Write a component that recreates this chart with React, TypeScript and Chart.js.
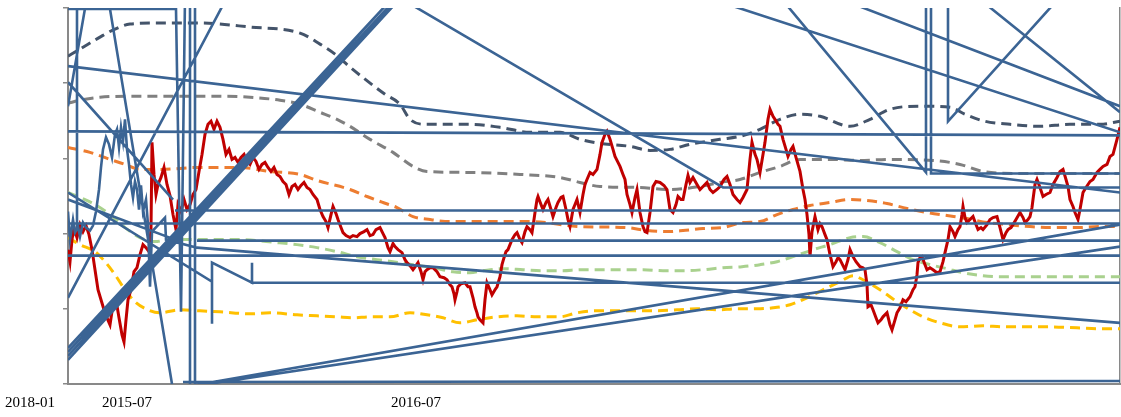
import React, { useEffect, useRef } from "react";
import { Chart, registerables } from "chart.js";

Chart.register(...registerables);

// x: trading-day index, y: price index (tick labels hidden in the original)
const xTickValues = [59, 348];
const xTickLabels = ["2015-07", "2016-07"];
const strayLabel = { text: "2018-01", at: -38 };

const price: number[][] = [
  [0,134],[2,122],[4,144],[6,156],[9,146],[12,159],[15,152],[18,158],[21,149],[24,134],
  [27,114],[30,94],[33,84],[36,74],[39,66],[42,59],[45,79],[48,84],[51,66],[54,49],
  [56,42],[58,64],[60,84],[63,94],[66,112],[69,116],[72,129],[75,139],[78,136],[81,132],
  [83,154],[84,241],[86,209],[88,189],[90,199],[93,206],[96,216],[99,199],[102,188],[105,169],
  [108,154],[110,179],[113,172],[116,184],[119,174],[122,179],[125,189],[128,194],[131,212],[134,229],
  [137,249],[140,259],[143,262],[146,254],[149,262],[152,256],[155,244],[158,229],[161,234],[164,224],
  [167,226],[170,221],[173,226],[176,229],[179,222],[182,219],[185,226],[188,222],[191,214],[194,219],
  [197,221],[200,216],[203,212],[206,216],[209,209],[212,207],[215,202],[218,199],[221,189],[224,197],
  [227,199],[230,194],[233,198],[236,201],[239,196],[242,194],[245,189],[249,184],[252,174],[255,167],
  [258,162],[260,156],[263,169],[265,177],[268,170],[270,164],[273,156],[275,151],[278,148],[282,146],
  [285,148],[289,147],[292,150],[296,152],[299,154],[302,148],[305,149],[308,154],[312,156],[315,150],
  [317,146],[320,136],[322,132],[325,140],[327,137],[330,134],[334,131],[337,124],[339,121],[342,118],
  [345,114],[348,118],[350,121],[353,112],[355,104],[357,112],[359,114],[362,116],[365,116],[369,112],
  [372,107],[376,106],[379,104],[382,99],[384,97],[386,90],[387,84],[389,92],[390,97],[393,100],
  [397,101],[400,97],[402,97],[405,86],[407,77],[409,71],[410,67],[412,64],[415,61],[417,84],
  [419,101],[422,94],[424,89],[427,94],[429,97],[432,107],[434,119],[436,126],[438,132],[440,134],
  [442,139],[444,144],[447,149],[449,151],[452,144],[454,141],[457,152],[459,157],[462,154],[464,151],
  [466,164],[467,171],[469,184],[470,187],[473,179],[475,174],[478,181],[480,184],[483,174],[485,167],
  [488,176],[490,181],[493,186],[495,187],[498,174],[500,164],[502,157],[505,174],[507,179],[509,184],
  [512,171],[515,189],[517,199],[519,204],[522,211],[525,209],[529,214],[532,229],[534,241],[537,249],
  [539,252],[542,244],[545,234],[547,227],[550,221],[552,217],[555,209],[557,204],[559,189],[562,179],
  [564,171],[567,186],[569,194],[572,171],[575,157],[577,152],[579,151],[582,171],[585,197],[588,202],
  [592,201],[596,198],[599,194],[602,174],[605,171],[608,179],[610,187],[613,184],[615,184],[618,199],
  [620,208],[622,201],[625,206],[629,199],[632,194],[636,198],[639,201],[642,194],[645,191],[649,194],
  [652,197],[656,204],[659,207],[662,199],[665,189],[669,184],[672,181],[675,186],[679,194],[682,224],
  [684,241],[687,229],[689,224],[692,211],[695,229],[697,241],[700,264],[702,274],[705,267],[707,264],
  [710,259],[712,257],[715,244],[718,234],[720,227],[723,234],[725,237],[728,226],[730,219],[732,212],
  [735,194],[737,184],[739,169],[741,149],[742,127],[744,152],[747,167],[750,154],[752,160],[754,157],
  [757,149],[759,144],[762,129],[765,117],[768,122],[770,126],[772,124],[775,118],[777,114],[780,124],
  [782,134],[785,127],[788,122],[792,117],[795,116],[797,114],[799,99],[800,77],[803,79],[805,74],
  [808,66],[810,61],[813,64],[815,67],[819,71],[822,59],[824,54],[827,64],[829,71],[832,76],
  [835,84],[838,82],[842,87],[845,94],[847,97],[849,109],[850,121],[852,126],[854,127],[857,119],
  [859,114],[862,116],[865,114],[869,111],[872,112],[875,122],[877,131],[880,144],[882,157],[885,152],
  [887,147],[890,154],[892,157],[894,169],[895,177],[897,166],[899,161],[902,164],[905,167],[908,159],
  [910,154],[913,156],[915,154],[919,159],[922,164],[925,166],[929,167],[932,156],[935,144],[938,151],
  [940,154],[943,156],[945,159],[948,164],[952,171],[955,166],[957,161],[960,164],[962,167],[964,176],
  [965,184],[967,199],[969,204],[972,196],[975,187],[978,189],[982,191],[985,199],[989,206],[992,212],
  [995,214],[998,204],[1000,197],[1002,184],[1005,177],[1007,171],[1010,164],[1012,174],[1015,191],[1018,196],
  [1022,202],[1025,204],[1029,211],[1032,214],[1035,217],[1039,219],[1042,227],[1045,229],[1049,244],[1052,256],
];

const bandTop: number[][] = [
  [0,327],[12,334],[32,346],[47,354],[62,359],[92,360],[132,360],[182,356],[232,350],[252,339],
  [267,329],[282,316],[297,304],[317,289],[332,279],[342,264],[357,259],[402,259],[432,256],[462,251],
  [492,251],[512,244],[532,240],[562,237],[582,233],[602,234],[622,239],[652,244],[672,247],[692,254],
  [712,264],[732,269],[752,267],[782,257],[802,264],[822,274],[852,277],[882,276],[897,269],[917,262],
  [942,259],[972,257],[1002,259],[1032,259],[1052,262],
];
const bandHigh: number[][] = [
  [0,280],[12,283],[32,286],[62,287],[112,287],[152,287],[182,286],[212,283],[232,279],[252,271],
  [269,264],[282,257],[302,244],[325,231],[345,217],[359,212],[402,211],[452,209],[492,206],[512,201],
  [532,197],[572,196],[602,194],[632,197],[652,201],[672,204],[692,211],[712,217],[732,224],[762,224],
  [792,223],[822,224],[865,223],[892,219],[915,212],[949,210],[982,210],[1015,210],[1052,210],
];
const bandMid: number[][] = [
  [0,236],[22,231],[42,224],[57,219],[72,214],[92,214],[132,216],[172,216],[202,212],[232,209],
  [249,203],[282,194],[299,187],[315,181],[329,176],[345,167],[362,164],[382,162],[422,162],[462,162],
  [512,157],[559,156],[579,153],[599,152],[615,153],[635,155],[655,156],[675,161],[692,162],[709,169],
  [725,174],[742,178],[762,181],[782,184],[799,183],[819,180],[839,175],[859,171],[879,168],[899,165],
  [919,161],[939,159],[962,157],[982,156],[1009,156],[1032,157],[1052,157],
];
const bandLow: number[][] = [
  [0,191],[12,186],[27,179],[42,169],[57,156],[72,146],[87,142],[102,144],[132,144],[172,144],
  [209,141],[229,139],[249,136],[269,132],[289,127],[309,124],[325,122],[345,119],[365,116],[385,112],
  [402,111],[415,113],[435,115],[455,114],[475,113],[495,113],[512,114],[535,114],[555,114],[575,114],
  [595,113],[615,113],[635,114],[655,116],[674,117],[692,119],[709,122],[725,127],[745,134],[762,139],
  [782,146],[795,147],[812,141],[829,132],[845,124],[862,119],[879,115],[895,111],[915,108],[935,107],
  [955,107],[975,107],[999,107],[1035,107],[1052,107],
];
const bandBottom: number[][] = [
  [0,146],[12,139],[27,132],[37,122],[47,109],[57,94],[67,82],[80,74],[92,71],[112,74],
  [132,73],[152,72],[182,70],[202,71],[229,69],[249,68],[269,67],[285,66],[302,67],[322,67],
  [342,71],[359,69],[375,66],[392,61],[409,64],[429,67],[449,68],[469,67],[492,67],[509,71],
  [529,73],[549,73],[569,73],[589,73],[609,74],[629,75],[649,74],[669,75],[689,75],[705,76],
  [722,79],[739,86],[755,94],[772,102],[785,108],[795,104],[812,94],[829,82],[842,74],[855,67],
  [872,61],[892,57],[915,58],[935,57],[959,57],[982,57],[1009,56],[1035,55],[1052,55],
];

// the second (mis-ordered) series, as the runs of points it was drawn in
const peerSegments: number[][][] = [
  [[0,36],[320,380],[0,32],[324,380],[0,28],[328,380],[0,24],[332,385],[655,196],[1052,196]],
  [[0,317],[1052,191]],
  [[0,252],[1052,248]],
  [[107,173],[1052,173]],
  [[0,160],[1052,160]],
  [[129,143],[1052,143]],
  [[0,128],[1052,128]],
  [[0,191],[144,102],[144,60],[144,121],[184,101],[184,121],[184,101],[1052,101]],
  [[1052,137],[127,-2],[127,384],[122,384],[122,-2],[1052,159]],
  [[115,2],[1052,3]],
  [[0,172],[2,144],[5,164],[7,151],[10,157],[12,147],[15,161],[18,156],[22,153],[25,158],
   [28,172],[31,194],[33,216],[35,234],[38,246],[41,239],[44,226],[47,249],[49,254],[51,236],
   [53,256],[55,242],[57,264],[59,234],[61,219],[63,199],[65,186],[67,202],[69,194],[71,174],
   [73,198],[75,172],[78,184],[80,159],[82,97],[84,152],[97,166],[98,144],[129,136],[1052,61]],
  [[0,374],[108,374],[113,72],[117,386]],
  [[40,386],[104,0]],
  [[0,86],[156,380]],
  [[0,277],[19,386]],
  [[9,386],[9,154]],
  [[0,301],[105,184]],
  [[0,184],[107,144]],
  [[637,386],[1052,251]],
  [[767,386],[1052,277]],
  [[712,386],[858,211],[858,386],[863,386],[863,210],[1052,210]],
  [[880,386],[880,262],[992,386]],
  [[909,386],[1052,271]],
];

const FONT = '"Liberation Serif", "Times New Roman", serif';
const AXIS_GRAY = "#898989";
const LABEL_PAD = 10;

const toPoints = (arr: number[][]) => arr.map(([x, y]) => ({ x, y }));

const peerPoints = peerSegments.flatMap((seg, i) => {
  const pts: { x: number; y: number | null }[] = toPoints(seg);
  if (i < peerSegments.length - 1) pts.push({ x: seg[seg.length - 1][0], y: null });
  return pts;
});

const strayLabelPlugin = {
  id: "strayLabel",
  afterDraw(chart: any) {
    const xs = chart.scales.x;
    const ctx = chart.ctx;
    ctx.save();
    ctx.font = `15px ${FONT}`;
    ctx.fillStyle = "#000";
    ctx.textAlign = "center";
    ctx.textBaseline = "middle";
    ctx.fillText(strayLabel.text, xs.getPixelForValue(strayLabel.at), xs.top + LABEL_PAD + 9);
    ctx.restore();
  },
};

export default function App() {
  const ref = useRef<HTMLCanvasElement | null>(null);

  useEffect(() => {
    if (!ref.current) return;
    Chart.defaults.font.family = FONT;
    const dashed = (data: number[][], color: string) => ({
      data: toPoints(data),
      borderColor: color,
      borderWidth: 3,
      borderDash: [10, 6],
      pointRadius: 0,
      cubicInterpolationMode: "monotone" as const,
      fill: false,
    });
    const chart = new Chart(ref.current, {
      type: "line",
      data: {
        datasets: [
          {
            data: peerPoints as any,
            borderColor: "#3B6494",
            borderWidth: 2.6,
            pointRadius: 0,
            tension: 0,
            spanGaps: false,
            fill: false,
          },
          {
            data: toPoints(price),
            borderColor: "#C00000",
            borderWidth: 3,
            pointRadius: 0,
            tension: 0,
            fill: false,
          },
          dashed(bandTop, "#44546A"),
          dashed(bandHigh, "#808080"),
          dashed(bandMid, "#ED7D31"),
          dashed(bandLow, "#A9D18E"),
          dashed(bandBottom, "#FFC000"),
        ],
      },
      options: {
        responsive: false,
        animation: false,
        parsing: true,
        layout: { padding: { top: 8, left: 0, right: 0, bottom: 0 } },
        plugins: {
          legend: { display: false },
          tooltip: { enabled: false },
          title: { display: false },
        },
        scales: {
          x: {
            type: "linear",
            min: 0,
            max: 1052,
            grid: { display: false, drawTicks: false },
            border: { display: true, color: AXIS_GRAY, width: 2 },
            ticks: {
              color: "#000",
              font: { size: 15, family: FONT },
              padding: LABEL_PAD,
              maxRotation: 0,
              autoSkip: false,
              callback: (_v: any, i: number) => xTickLabels[i],
            },
            afterBuildTicks: (scale: any) => {
              scale.ticks = xTickValues.map((value) => ({ value }));
            },
            afterFit: (scale: any) => {
              scale.height = 33;
            },
          },
          y: {
            type: "linear",
            min: 0,
            max: 375,
            ticks: { display: false, stepSize: 75 },
            grid: {
              display: true,
              drawOnChartArea: false,
              drawTicks: true,
              tickLength: 5,
              color: AXIS_GRAY,
              lineWidth: 1.5,
            },
            border: { display: true, color: AXIS_GRAY, width: 2 },
            afterFit: (scale: any) => {
              scale.width = 68;
            },
          },
          y2: {
            type: "linear",
            position: "right",
            display: true,
            ticks: { display: false },
            grid: { display: false, drawTicks: false },
            border: { display: true, color: AXIS_GRAY, width: 1.5 },
            afterFit: (scale: any) => {
              scale.width = 1;
            },
          },
        },
      },
      plugins: [strayLabelPlugin],
    });
    return () => chart.destroy();
  }, []);

  return (
    <canvas
      ref={ref}
      width={1121}
      height={417}
      style={{ position: "absolute", left: 0, top: 0, display: "block" }}
    />
  );
}
